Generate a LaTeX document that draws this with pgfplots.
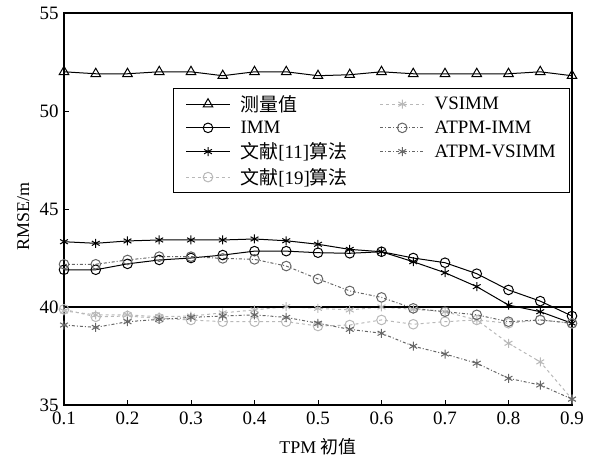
\documentclass[border=0pt]{standalone}
\usepackage{fontspec}
\setmainfont{Liberation Serif}
\newfontfamily\cjk{Noto Sans CJK SC}
\usepackage{pgfplots}
\pgfplotsset{compat=1.18}
\definecolor{lg}{gray}{0.72}
\definecolor{dg}{gray}{0.4}
\begin{document}
\begin{tikzpicture}
\useasboundingbox (-64bp,-53bp) rectangle (526bp,405bp);
\begin{axis}[
  scale only axis, width=508bp, height=392bp,
  xmin=0.1, xmax=0.9, ymin=35, ymax=55,
  xtick={0.1,0.2,...,0.9}, ytick={35,40,...,55},
  xticklabels={0.1,0.2,0.3,0.4,0.5,0.6,0.7,0.8,0.9},
  tick align=inside, xtick pos=bottom, ytick pos=left,
  major tick length=5bp,
  axis line style={line width=1.4pt},
  tick style={line width=0.8pt, black},
  /pgf/number format/assume math mode=true,
  tick label style={font=\fontsize{19}{21}\selectfont},
  xticklabel style={yshift=-3bp},
  yticklabel style={xshift=-2bp},
  label style={font=\fontsize{18}{20}\selectfont},
  xlabel={TPM {\cjk 初值}},
  ylabel={RMSE/m},
  xlabel style={at={(axis description cs:0.5,-0.107)}, anchor=center},
  ylabel style={at={(axis description cs:-0.08,0.48)}, anchor=center},
  every axis plot/.append style={line width=1bp},
  legend cell align=left,
  transpose legend, legend columns=4,
  legend image code/.code={\draw[mark repeat=2,mark phase=2] plot coordinates {(0bp,0bp)(22bp,0bp)(44bp,0bp)};},
  legend style={at={(0.2146,0.8087)}, anchor=north west, font=\fontsize{19}{21}\selectfont,
    draw=black, line width=1bp, inner xsep=12bp, inner ysep=5bp, row sep=4bp,
    /tikz/every odd column/.append style={column sep=8bp},
    /tikz/every even column/.append style={column sep=30bp}},
  clip=false,
]
\addplot[black, mark=triangle, mark options={solid, fill=white}, mark size=5.5bp] coordinates {
(0.1,52.0)(0.15,51.9)(0.2,51.9)(0.25,52.0)(0.3,52.0)(0.35,51.8)(0.4,52.0)(0.45,52.0)(0.5,51.8)(0.55,51.85)(0.6,52.0)(0.65,51.9)(0.7,51.9)(0.75,51.9)(0.8,51.9)(0.85,52.0)(0.9,51.8)};
\addlegendentry{\cjk 测量值}
\addplot[black, mark=o, mark options={solid}, mark size=4.8bp] coordinates {
(0.1,41.9)(0.15,41.9)(0.2,42.2)(0.25,42.4)(0.3,42.5)(0.35,42.65)(0.4,42.85)(0.45,42.85)(0.5,42.77)(0.55,42.74)(0.6,42.82)(0.65,42.5)(0.7,42.26)(0.75,41.7)(0.8,40.87)(0.85,40.3)(0.9,39.54)};
\addlegendentry{IMM}
\addplot[black, mark=asterisk, mark options={solid}, mark size=4.5bp] coordinates {
(0.1,43.33)(0.15,43.25)(0.2,43.37)(0.25,43.42)(0.3,43.42)(0.35,43.42)(0.4,43.47)(0.45,43.38)(0.5,43.2)(0.55,42.94)(0.6,42.82)(0.65,42.31)(0.7,41.75)(0.75,41.04)(0.8,40.1)(0.85,39.76)(0.9,39.17)};
\addlegendentry{{\cjk 文献}[11]{\cjk 算法}}
\addplot[lg, dashed, mark=o, mark options={solid}, mark size=4.8bp] coordinates {
(0.1,39.88)(0.15,39.5)(0.2,39.54)(0.25,39.42)(0.3,39.34)(0.35,39.25)(0.4,39.25)(0.45,39.25)(0.5,39.03)(0.55,39.08)(0.6,39.34)(0.65,39.12)(0.7,39.25)(0.75,39.34)(0.8,39.17)(0.85,39.34)(0.9,39.17)};
\addlegendentry{{\cjk 文献}[19]{\cjk 算法}}
\addplot[lg, dashed, mark=asterisk, mark options={solid}, mark size=4.5bp] coordinates {
(0.1,39.8)(0.15,39.6)(0.2,39.6)(0.25,39.5)(0.3,39.54)(0.35,39.7)(0.4,39.85)(0.45,40.02)(0.5,39.93)(0.55,39.85)(0.6,40.0)(0.65,39.88)(0.7,39.76)(0.75,39.34)(0.8,38.15)(0.85,37.2)(0.9,35.3)};
\addlegendentry{VSIMM}
\addplot[dg, dashdotted, mark=o, mark options={solid}, mark size=4.8bp] coordinates {
(0.1,42.18)(0.15,42.18)(0.2,42.4)(0.25,42.57)(0.3,42.57)(0.35,42.48)(0.4,42.43)(0.45,42.09)(0.5,41.43)(0.55,40.82)(0.6,40.49)(0.65,39.93)(0.7,39.76)(0.75,39.6)(0.8,39.25)(0.85,39.34)(0.9,39.17)};
\addlegendentry{ATPM-IMM}
\addplot[dg, dashdotted, mark=asterisk, mark options={solid}, mark size=4.5bp] coordinates {
(0.1,39.08)(0.15,38.96)(0.2,39.25)(0.25,39.37)(0.3,39.47)(0.35,39.54)(0.4,39.6)(0.45,39.47)(0.5,39.17)(0.55,38.86)(0.6,38.66)(0.65,38.0)(0.7,37.6)(0.75,37.13)(0.8,36.36)(0.85,36.02)(0.9,35.3)};
\addlegendentry{ATPM-VSIMM}
\addplot[black, line width=1.2bp, forget plot] coordinates {(0.1,40)(0.9,40)};
\end{axis}
\end{tikzpicture}
\end{document}
